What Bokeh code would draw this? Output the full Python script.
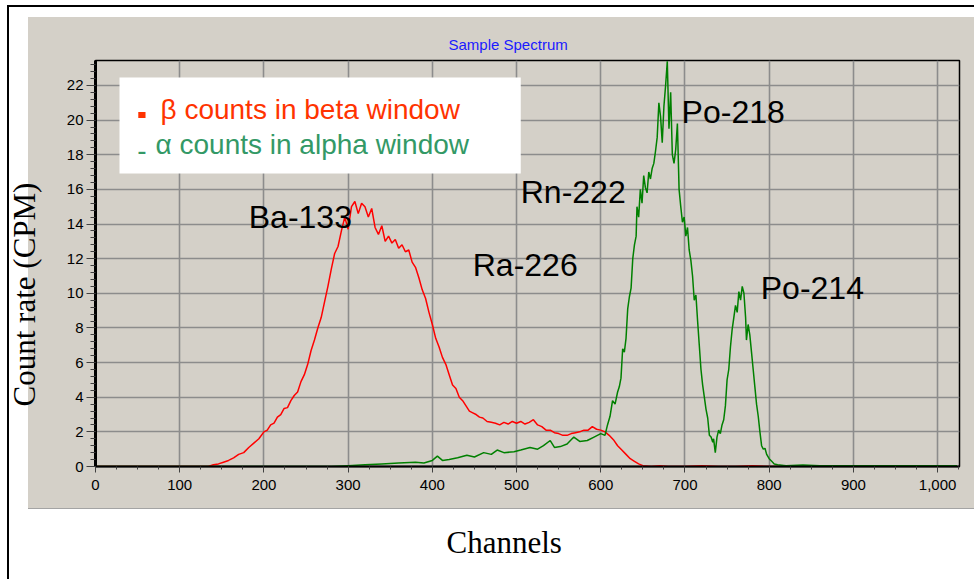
from bokeh.plotting import figure
from bokeh.models import (Range1d, SingleIntervalTicker, NumeralTickFormatter,
                          Label, BoxAnnotation)
from bokeh.embed import file_html
from bokeh.resources import INLINE

# ---------------- data ----------------
beta_ch = [0, 134, 140, 146, 152, 158, 164, 170, 176, 182, 188, 194, 200, 204, 208,
           212, 216, 220, 224, 228, 232, 236, 240, 244, 248, 252, 256, 260, 264, 268,
           272, 276, 280, 284, 288, 292, 296, 300, 304, 308, 312, 316, 320, 324, 328,
           332, 336, 340, 344, 348, 352, 356, 360, 364, 368, 372, 376, 380, 384, 388,
           392, 396, 400, 404, 408, 412, 416, 420, 424, 428, 432, 436, 440, 444, 448,
           452, 456, 460, 465, 470, 475, 480, 485, 490, 495, 500, 505, 510, 515, 520,
           525, 530, 535, 540, 545, 550, 555, 560, 565, 570, 575, 580, 585, 590, 595,
           600, 605, 610, 615, 620, 625, 630, 635, 640, 645, 650, 660, 670, 680, 700,
           720, 740, 760, 780, 800, 1023]
beta_cpm = [0.0, 0.0, 0.1, 0.15, 0.25, 0.35, 0.5, 0.7, 0.8, 1.1, 1.35, 1.6, 2.0, 2.1, 2.4,
            2.5, 2.85, 3.0, 3.35, 3.4, 3.8, 4.1, 4.3, 4.9, 5.3, 5.9, 6.7, 7.3, 8.0, 8.6,
            9.5, 10.4, 11.4, 12.3, 12.7, 13.6, 14.4, 13.7, 15.0, 15.3, 14.6, 15.2, 15.0, 14.4, 14.9,
            13.8, 13.4, 13.9, 13.0, 13.3, 12.9, 13.1, 12.6, 12.8, 12.4, 12.5, 11.8, 11.5, 10.9, 10.2,
            9.7, 8.9, 8.2, 7.4, 6.9, 6.3, 5.9, 5.3, 4.7, 4.5, 4.0, 3.8, 3.5, 3.2, 3.1,
            3.0, 2.85, 2.8, 2.6, 2.55, 2.5, 2.4, 2.55, 2.45, 2.6, 2.5, 2.6, 2.45, 2.55, 2.7,
            2.4, 2.3, 2.1, 2.1, 1.95, 1.9, 1.8, 1.8, 1.9, 1.95, 2.0, 2.1, 2.1, 2.3, 2.15,
            2.1, 2.0, 1.8, 1.55, 1.2, 0.95, 0.7, 0.45, 0.3, 0.15, 0.05, 0.0, 0.05, 0.0, 0.0,
            0.05, 0.0, 0.0, 0.05, 0.0, 0.0]

alpha_ch = [0, 280, 300, 320, 340, 360, 380, 390, 400, 406, 412, 420, 430, 441, 450,
            461, 470, 477, 485, 497, 505, 516, 525, 532, 540, 545, 552, 560, 568, 575,
            584, 592, 600, 605, 608, 611, 614, 617, 620, 622, 624, 626, 628, 630, 632,
            634, 636, 638, 640, 642, 643, 645, 647, 649, 651, 653, 655, 657, 659, 661,
            663, 665, 667, 669, 671, 673, 675, 677, 679, 681, 683, 685, 687, 689, 691,
            693, 695, 697, 699, 701, 703, 705, 707, 709, 711, 713, 715, 717, 719, 721,
            723, 725, 727, 729, 731, 733, 734, 736, 738, 740, 742, 744, 746, 748, 750,
            752, 754, 756, 758, 760, 762, 764, 766, 768, 770, 772, 773, 775, 777, 779,
            781, 783, 785, 787, 789, 791, 793, 795, 797, 800, 803, 806, 810, 820, 840,
            860, 900, 950, 1000, 1023]
alpha_cpm = [0.0, 0.0, 0.05, 0.1, 0.15, 0.2, 0.25, 0.2, 0.35, 0.6, 0.35, 0.4, 0.5, 0.65, 0.55,
             0.8, 0.7, 0.95, 0.8, 0.85, 0.95, 1.1, 1.0, 1.2, 1.5, 1.1, 1.15, 1.3, 1.7, 1.45,
             1.5, 1.7, 1.9, 1.8, 2.4, 2.9, 3.8, 3.6, 4.3, 4.6, 5.1, 6.8, 6.6, 7.4, 9.1,
             9.8, 10.3, 12.0, 12.8, 13.3, 15.0, 14.4, 16.0, 15.2, 16.8, 16.1, 15.8, 17.0, 16.6, 17.2,
             17.5, 18.2, 19.0, 21.0, 20.2, 18.7, 20.8, 22.0, 23.4, 19.5, 21.6, 18.0, 17.5, 18.3, 19.8,
             16.0, 15.0, 14.1, 14.4, 13.3, 13.8, 12.5, 11.9, 11.0, 9.6, 9.9, 8.4, 7.0, 5.6, 4.7,
             4.0, 3.3, 2.8, 1.8, 1.7, 1.4, 1.6, 0.8, 1.7, 2.1, 1.9, 2.4, 2.7, 3.5, 5.0,
             5.6, 6.9, 7.9, 8.6, 9.3, 8.9, 10.1, 9.6, 10.4, 10.0, 8.6, 7.3, 8.2, 7.6, 6.6,
             5.6, 4.6, 3.6, 2.9, 2.0, 1.2, 1.0, 1.05, 0.7, 0.45, 0.3, 0.15, 0.1, 0.05, 0.08,
             0.05, 0.05, 0.05, 0.05, 0.05]

x_tick_step = 100
y_tick_step = 2

peak_names = ["Ba-133", "Ra-226", "Rn-222", "Po-218", "Po-214"]
peak_label_x = [182, 448, 505, 696, 790]
peak_label_y = [14.38, 11.66, 15.82, 20.44, 10.28]

legend_texts = ["\u03b2 counts in beta window", "\u03b1 counts in alpha window"]
legend_colors = ["#ff3300", "#339966"]

# ---------------- page decoration (white sheet, black frame, grey panel) -------------
sheet_css = (
    "linear-gradient(#000,#000) 7px 5px / 2px 600px no-repeat, "
    "linear-gradient(#000,#000) 7px 5px / 990px 2px no-repeat, "
    "linear-gradient(#a4a4a4,#a4a4a4) 28px 508px / 960px 1px no-repeat, "
    "linear-gradient(#d4d0c8,#d4d0c8) 28px 17px / 960px 492px no-repeat, "
    "#ffffff"
)

# ---------------- figure ----------------
W, H = 974, 579
p = figure(width=W, height=H, x_range=Range1d(0, 1026), y_range=Range1d(0, 23.44),
           output_backend="svg", toolbar_location=None,
           min_border_left=95, min_border_right=15, min_border_top=60, min_border_bottom=113,
           background_fill_color="#d4d0c8", border_fill_color="white", border_fill_alpha=0,
           styles={"background": sheet_css})
p.outline_line_color = "black"
p.outline_line_width = 1.5

# title
p.title.text = "Sample Spectrum"
p.title.align = "left"
p.title.offset = 353
p.title.standoff = 16
p.title.text_font = "Liberation Sans"
p.title.text_font_size = "15px"
p.title.text_font_style = "normal"
p.title.text_color = "#1a1aff"

# grid
for g in (p.xgrid, p.ygrid):
    g.grid_line_color = "#8c8c8c"
    g.grid_line_width = 1.6

# axes
p.xaxis.ticker = SingleIntervalTicker(interval=x_tick_step, num_minor_ticks=4)
p.yaxis.ticker = SingleIntervalTicker(interval=y_tick_step, num_minor_ticks=5)
p.xaxis.formatter = NumeralTickFormatter(format="0,0")
for ax in (p.xaxis, p.yaxis):
    ax.axis_line_color = "black"
    ax.major_tick_in = 0
    ax.minor_tick_in = 0
    ax.major_tick_line_color = "#404040"
    ax.minor_tick_line_color = "#404040"
    ax.major_label_text_font = "Liberation Sans"
    ax.major_label_text_font_size = "15px"
    ax.major_label_text_color = "black"
    ax.axis_label_text_font = "Liberation Serif"
    ax.axis_label_text_font_size = "31px"
    ax.axis_label_text_font_style = "normal"
    ax.axis_label_text_color = "black"
p.xaxis.axis_line_width = 2
p.yaxis.axis_line_width = 3
p.xaxis.major_tick_out = 6
p.xaxis.minor_tick_out = 3
p.yaxis.major_tick_out = 9
p.yaxis.minor_tick_out = 5
p.xaxis.major_label_standoff = 7
p.yaxis.major_label_standoff = 3
NB = "\u00a0"
p.xaxis.axis_label = "Channels" + NB * 6
p.yaxis.axis_label = "Count rate (CPM)" + NB * 8
p.xaxis.axis_label_standoff = 32
p.yaxis.axis_label_standoff = 22

# curves
p.line(beta_ch, beta_cpm, line_color="#ff0000", line_width=1.5)
p.line(alpha_ch, alpha_cpm, line_color="#008000", line_width=1.5)

# legend box
p.add_layout(BoxAnnotation(left=28.5, right=505, top=22.46, bottom=16.92,
                           fill_color="white", fill_alpha=1, line_color=None))
p.add_layout(BoxAnnotation(left=50.8, right=59.4, top=20.47, bottom=20.12,
                           fill_color=legend_colors[0], fill_alpha=1, line_color=None))
p.add_layout(Label(x=49.5, y=17.67, text="-", text_color=legend_colors[1],
                   text_font="Liberation Sans", text_font_size="28px"))
p.add_layout(Label(x=77.2, y=19.69, text=legend_texts[0], text_color=legend_colors[0],
                   text_font="Liberation Sans", text_font_size="28px"))
p.add_layout(Label(x=71.3, y=17.67, text=legend_texts[1], text_color=legend_colors[1],
                   text_font="Liberation Sans", text_font_size="28px"))

# peak annotations
for name, lx, ly in zip(peak_names, peak_label_x, peak_label_y):
    p.add_layout(Label(x=lx, y=ly, text=name, text_color="black",
                       text_font="Liberation Sans", text_font_size="32px",
                       text_baseline="alphabetic"))

open("out.html", "w").write(file_html(p, INLINE))
